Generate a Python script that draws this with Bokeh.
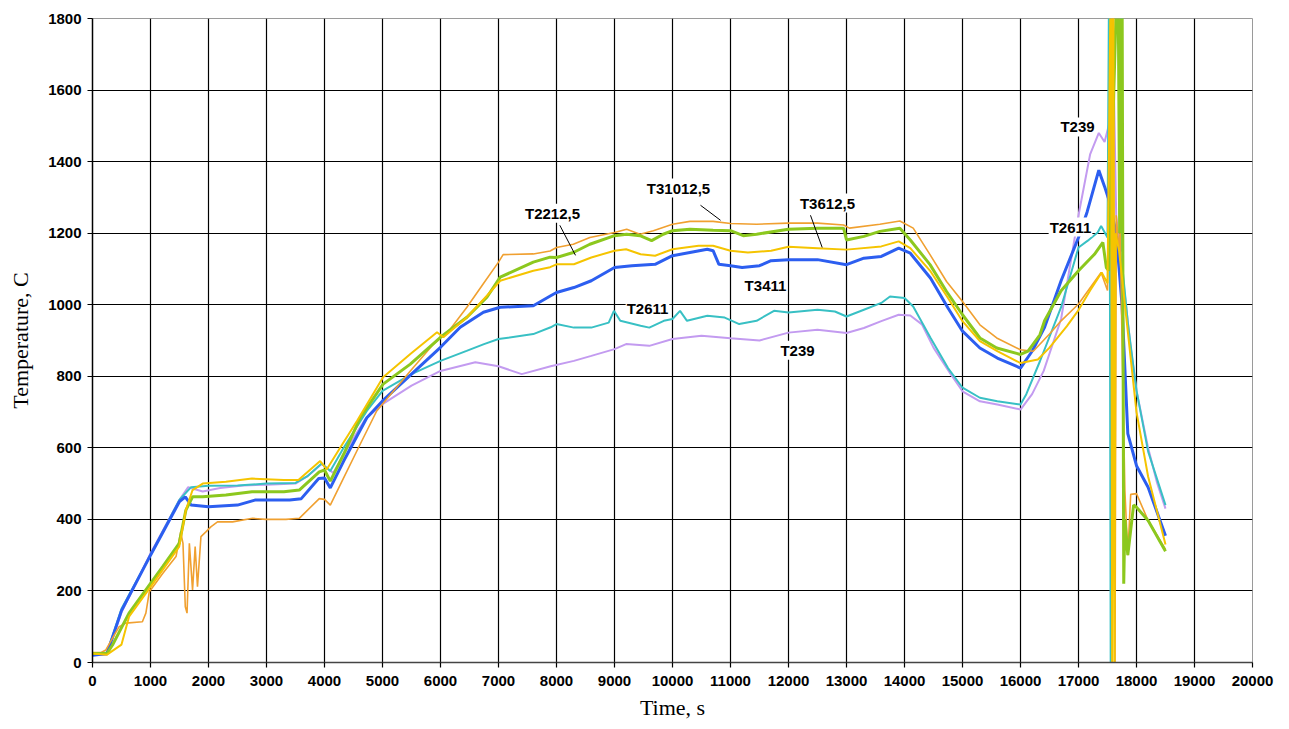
from bokeh.plotting import figure
from bokeh.models import FixedTicker, Label, Range1d, Segment, ColumnDataSource
from bokeh.embed import file_html
from bokeh.resources import INLINE

# ---------------- data ----------------
x_ticks = list(range(0, 20001, 1000))
y_ticks = list(range(0, 1801, 200))

t_T239 = [0, 250, 500, 1000, 1500, 1650, 1900, 2200, 2600, 3000, 3500, 3700, 3950, 4150, 4400, 4700,
          5000, 5500, 6000, 6600, 7000, 7400, 7900, 8300, 8600, 9000, 9200, 9600, 10000, 10500, 11000,
          11500, 12000, 12500, 13000, 13300, 13600, 13900, 14100, 14300, 14500, 14800, 15000, 15300,
          15600, 16000, 16200, 16400, 16700, 17000, 17200, 17350, 17450, 17550, 17600, 17650, 17750,
          17900, 18000, 18200, 18350, 18500]
v_T239 = [20, 22, 140, 305, 455, 490, 478, 488, 495, 497, 500, 520, 555, 530, 600, 680,
          722, 774, 815, 839, 828, 806, 828, 843, 857, 876, 890, 885, 904, 913, 906,
          900, 922, 930, 921, 935, 954, 972, 970, 945, 880, 805, 758, 730,
          721, 707, 750, 815, 960, 1250, 1420, 1480, 1455, 1520, 1700, 1250, 1100,
          880, 760, 600, 505, 430]

t_T2611 = [0, 250, 500, 1000, 1500, 1700, 2000, 2500, 3000, 3500, 3700, 3950, 4100, 4330, 4730, 5000,
           5500, 6000, 6450, 6750, 7000, 7600, 7900, 8000, 8300, 8600, 8900, 8990, 9100, 9450, 9600,
           9850, 10000, 10130, 10250, 10600, 10900, 11150, 11450, 11750, 12000, 12500, 12800, 13000,
           13300, 13600, 13750, 14000, 14150, 14450, 14750, 15000, 15300, 15600, 16000, 16100, 16335,
           16700, 17000, 17160, 17330, 17390, 17500, 17530, 17555, 17600, 17730, 17740, 17760, 17850,
           18000, 18200, 18500]
v_T2611 = [25, 28, 150, 300, 455, 490, 494, 495, 500, 502, 520, 556, 535, 600, 703, 759,
           806, 843, 871, 890, 904, 918, 937, 946, 936, 936, 950, 983, 955, 941, 936,
           955, 960, 983, 955, 969, 964, 946, 955, 983, 978, 986, 981, 967,
           986, 1005, 1023, 1019, 995, 907, 823, 768, 740, 730, 721, 750, 842,
           993, 1160, 1179, 1202, 1220, 1188, 2000, -20, 1150, 1150, 2000, 1100, 950,
           760, 590, 440]

t_T3411 = [0, 250, 500, 1000, 1500, 1600, 1700, 2000, 2500, 2800, 3400, 3600, 3900, 4000, 4100, 4330,
           4730, 5000, 5500, 6000, 6340, 6740, 7030, 7600, 7900, 8000, 8300, 8600, 9000, 9300, 9700,
           10000, 10300, 10600, 10700, 10800, 11000, 11200, 11500, 11700, 12000, 12500, 13000, 13300,
           13600, 13900, 14100, 14450, 14750, 15000, 15300, 15600, 16000, 16200, 16415, 16700, 17000,
           17150, 17350, 17450, 17530, 17650, 17750, 17850, 18000, 18200, 18500]
v_T3411 = [20, 25, 145, 300, 450, 463, 440, 435, 440, 454, 454, 458, 514, 516, 488, 563,
           684, 731, 806, 881, 937, 979, 993, 997, 1025, 1034, 1048, 1067, 1104, 1109, 1113,
           1137, 1146, 1155, 1151, 1113, 1109, 1104, 1109, 1123, 1126, 1126, 1112, 1130,
           1135, 1158, 1144, 1074, 991, 926, 879, 851, 823, 870, 937, 1067, 1188,
           1260, 1376, 1330, 1290, 1200, 1000, 640, 550, 490, 354]

t_T3612_5 = [0, 250, 500, 630, 920, 1210, 1495, 1610, 1725, 1900, 2300, 2750, 3300, 3550, 3925, 4040,
             4270, 4560, 5010, 5480, 5940, 6050, 6455, 6800, 7030, 7600, 7890, 8000, 8300, 8600, 9000,
             9200, 9450, 9700, 10000, 10450, 10700, 11000, 11300, 11700, 12000, 12500, 13000, 13600,
             13900, 14100, 14450, 14750, 15000, 15300, 15600, 16000, 16300, 16500, 16800, 17000, 17200,
             17400, 17500, 17560, 17580, 17600, 17620, 17640, 17700, 17800, 17900, 18000, 18200, 18500]
v_T3612_5 = [25, 22, 50, 128, 193, 259, 324, 426, 482, 500, 505, 514, 510, 510, 563, 540,
             600, 675, 797, 862, 923, 909, 965, 1025, 1067, 1095, 1105, 1113, 1113, 1132, 1151,
             1155, 1141, 1137, 1155, 1165, 1165, 1151, 1146, 1151, 1162, 1158, 1154, 1163,
             1177, 1158, 1093, 1019, 954, 898, 870, 837, 847, 880, 940, 985, 1040,
             1090, 1060, 2000, -20, 2000, -20, 1200, 1150, 1000, 850, 700, 520, 330]

t_T31012_5 = [0, 150, 230, 345, 460, 575, 860, 920, 980, 1210, 1440, 1520, 1560, 1600, 1630, 1670,
              1725, 1770, 1810, 1870, 1955, 2040, 2155, 2415, 2760, 2990, 3335, 3565, 3910, 4000,
              4100, 4330, 4615, 4900, 5190, 5480, 5880, 6170, 6455, 6735, 7000, 7080, 7600, 7890,
              8000, 8290, 8575, 9000, 9210, 9440, 9670, 10000, 10300, 10700, 11000, 11450, 12000,
              12500, 12950, 13050, 13575, 13920, 14150, 14440, 14725, 15000, 15300, 15590, 16000,
              16220, 16500, 16700, 17000, 17390, 17500, 17600, 17630, 17650, 17700, 17720, 17750,
              17800, 17850, 17900, 18000, 18200, 18500]
v_T31012_5 = [28, 28, 35, 68, 100, 110, 114, 138, 198, 249, 296, 365, 333, 156, 138, 333,
              203, 324, 212, 352, 365, 379, 393, 393, 403, 400, 400, 403, 458, 456,
              440, 516, 610, 703, 759, 815, 890, 932, 993, 1058, 1119, 1140, 1142, 1150,
              1160, 1169, 1188, 1202, 1211, 1197, 1207, 1225, 1233, 1233, 1227, 1225, 1228,
              1228, 1223, 1214, 1225, 1234, 1214, 1140, 1065, 1009, 944, 907, 874,
              870, 918, 955, 1002, 1090, 1040, 2000, -20, 1250, 1150, 1220, 900,
              480, 300, 470, 472, 397, 316]

t_T2212_5 = [0, 250, 345, 630, 920, 1210, 1495, 1610, 1725, 1900, 2300, 2750, 3300, 3565, 3910, 4000,
             4100, 4330, 4615, 5010, 5480, 6000, 6455, 6800, 7030, 7600, 7890, 8000, 8290, 8575, 9000,
             9210, 9440, 9640, 9840, 10000, 10300, 10700, 11000, 11220, 11450, 12000, 12500, 12950,
             13000, 13300, 13575, 13920, 14100, 14440, 14725, 15000, 15300, 15590, 16000, 16130, 16335,
             16415, 16700, 17000, 17275, 17420, 17480, 17520, 17680, 17710, 17750, 17780, 17800, 17850,
             17950, 18000, 18200, 18500]
v_T2212_5 = [25, 25, 49, 138, 203, 268, 333, 426, 463, 463, 468, 477, 477, 482, 533, 538,
             507, 582, 684, 778, 834, 909, 965, 1021, 1077, 1119, 1133, 1132, 1146, 1169, 1193,
             1197, 1193, 1179, 1197, 1207, 1211, 1208, 1207, 1193, 1197, 1211, 1214, 1214,
             1181, 1191, 1205, 1214, 1181, 1112, 1037, 972, 907, 879, 861, 870, 916,
             955, 1039, 1095, 1141, 1174, 1104, 1095, 2000, 1200, 2000, 220, 400, 300,
             440, 434, 397, 311]

series = [
    ("T239", t_T239, v_T239, "#c39bf0", 2),
    ("T2611", t_T2611, v_T2611, "#38c0c4", 2),
    ("T3411", t_T3411, v_T3411, "#2c5ef0", 3),
    ("T31012,5", t_T31012_5, v_T31012_5, "#f0a030", 1.6),
    ("T2212,5", t_T2212_5, v_T2212_5, "#8cc81e", 3),
    ("T3612,5", t_T3612_5, v_T3612_5, "#f5c400", 2),
]

# annotation labels: text, x (s), y (C)
label_text = ["T2212,5", "T31012,5", "T3612,5", "T3411", "T2611", "T239", "T239", "T2611"]
label_x = [7931, 10103, 12672, 11603, 9569, 12155, 16983, 16862]
label_y = [1256, 1326, 1284, 1055, 990, 873, 1497, 1217]
leader_x0 = [8057, 10483, 12379]
leader_y0 = [1222, 1278, 1250]
leader_x1 = [8328, 10828, 12581]
leader_y1 = [1138, 1236, 1160]

# ---------------- figure ----------------
p = figure(width=1289, height=729, output_backend="svg", toolbar_location=None,
           x_range=Range1d(0, 20000), y_range=Range1d(0, 1800),
           min_border_left=92, min_border_right=37, min_border_top=18, min_border_bottom=67)
p.background_fill_color = "white"
p.border_fill_color = "white"
p.outline_line_color = "#9a9a9a"
p.outline_line_width = 1

p.xaxis.ticker = FixedTicker(ticks=x_ticks)
p.yaxis.ticker = FixedTicker(ticks=y_ticks)
p.xgrid.ticker = FixedTicker(ticks=x_ticks[1:-1])
p.ygrid.ticker = FixedTicker(ticks=y_ticks[1:])
for g in (p.xgrid, p.ygrid):
    g.grid_line_color = "#000000"
    g.grid_line_width = 1.2

for ax in (p.xaxis, p.yaxis):
    ax.axis_line_color = "#000000"
    ax.axis_line_width = 1.5
    ax.major_tick_line_color = "#000000"
    ax.major_tick_line_width = 1.2
    ax.major_tick_out = 5
    ax.major_tick_in = 0
    ax.minor_tick_line_color = None
    ax.major_label_text_font = "Liberation Sans"
    ax.major_label_text_font_style = "bold"
    ax.major_label_text_font_size = "15px"
    ax.major_label_text_color = "#000000"
    ax.axis_label_text_font = "Liberation Serif"
    ax.axis_label_text_font_style = "normal"
    ax.axis_label_text_font_size = "22px"
    ax.axis_label_text_color = "#000000"

p.xaxis.axis_line_color = "#444444"
p.xaxis.axis_label = "Time, s"
p.yaxis.axis_label = "Temperature, C"
p.xaxis.major_label_standoff = 8
p.xaxis.axis_label_standoff = 6
p.yaxis.major_label_standoff = 6
p.yaxis.axis_label_standoff = 12

for name, t, v, color, w in series:
    p.line(t, v, line_color=color, line_width=w, legend_label=None) if False else \
        p.line(t, v, line_color=color, line_width=w)

lsrc = ColumnDataSource(dict(x0=leader_x0, y0=leader_y0, x1=leader_x1, y1=leader_y1))
p.segment(x0="x0", y0="y0", x1="x1", y1="y1", source=lsrc, line_color="#000000", line_width=1)

for txt, lx, ly in zip(label_text, label_x, label_y):
    p.add_layout(Label(x=lx, y=ly, text=txt, text_align="center", text_baseline="middle",
                       text_font="Liberation Sans", text_font_style="bold", text_font_size="15px",
                       text_color="#000000", background_fill_color="white", padding=1))

open("out.html", "w").write(file_html(p, INLINE))
